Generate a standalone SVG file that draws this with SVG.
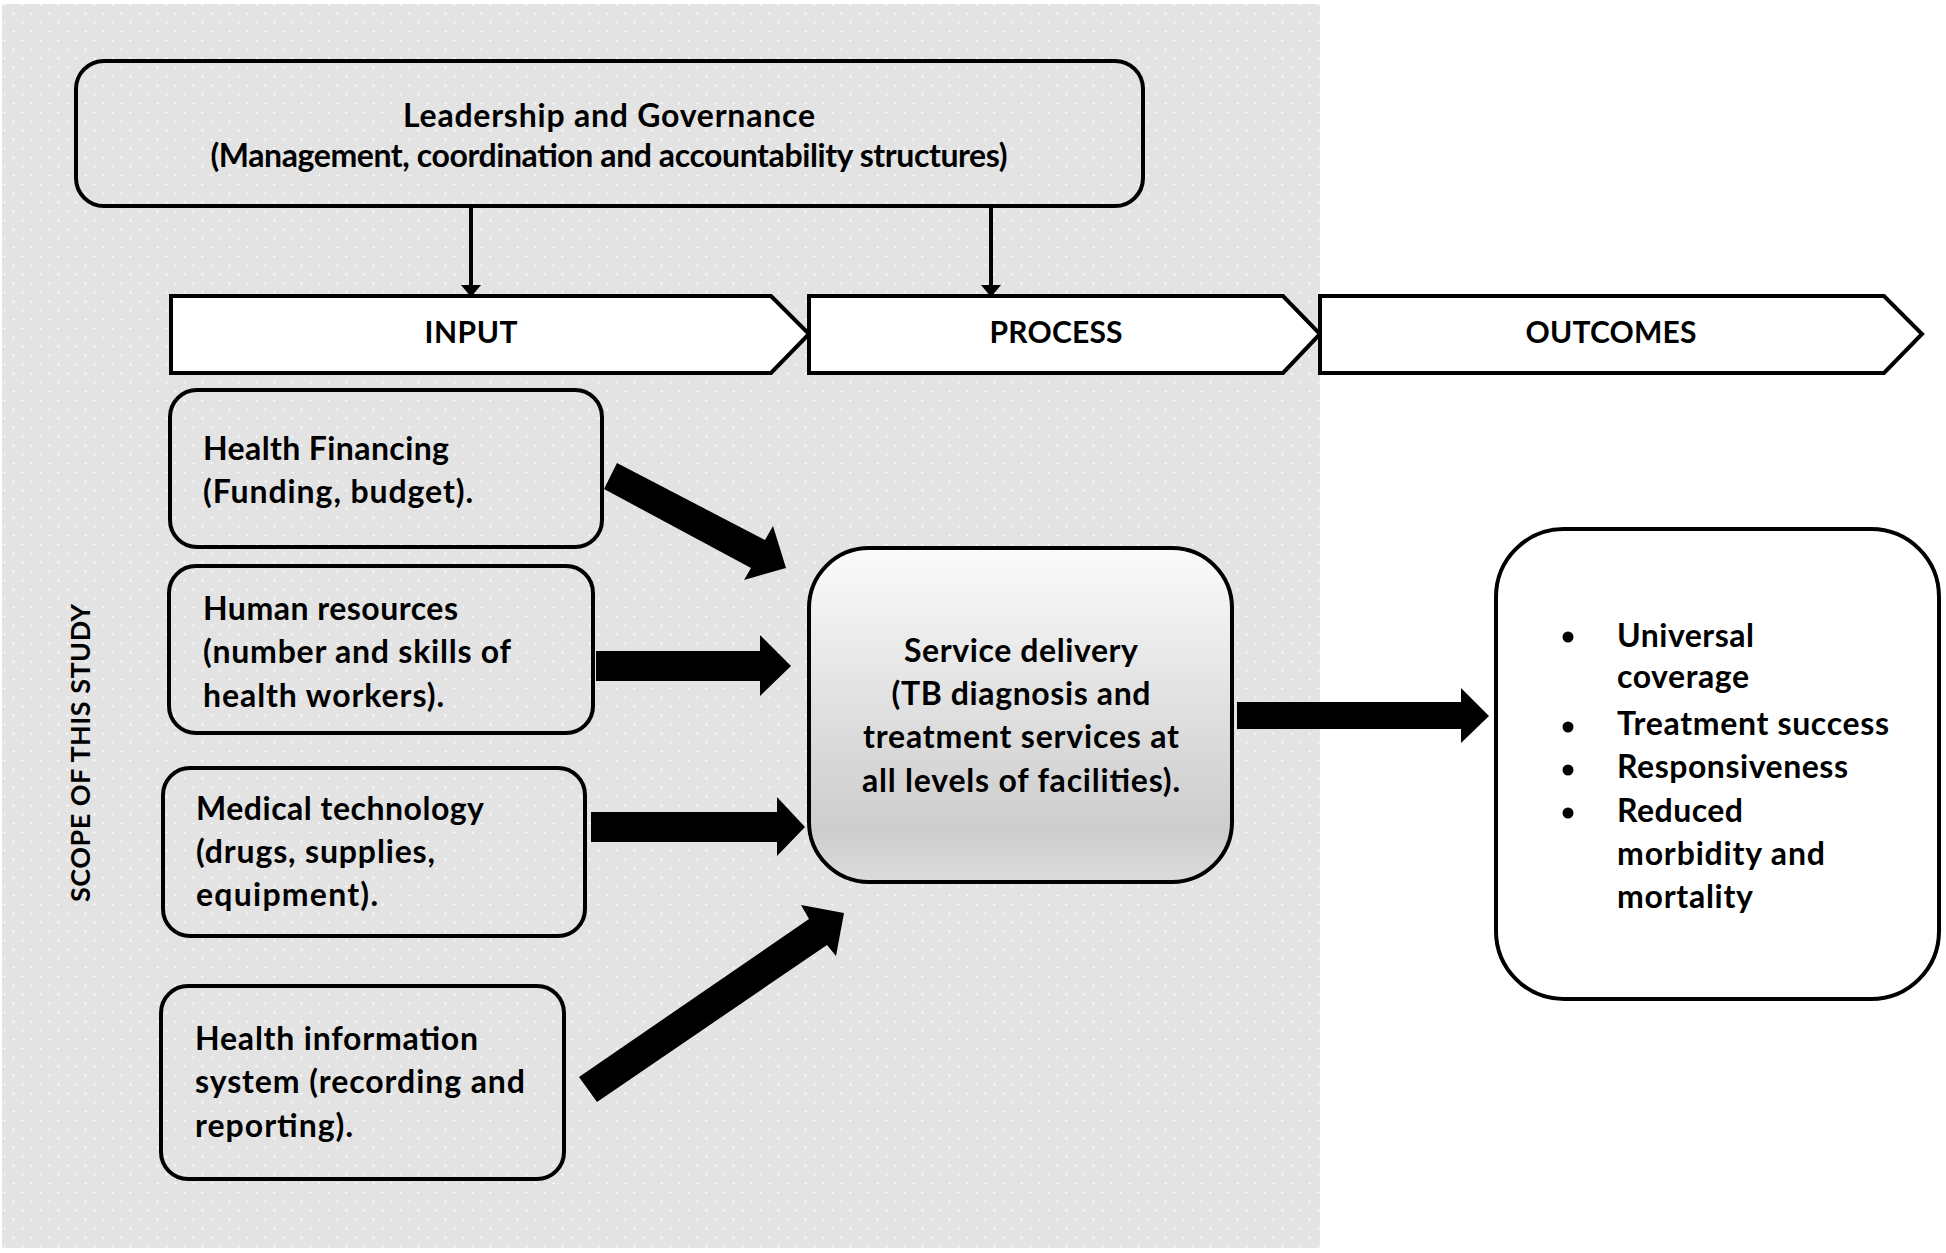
<svg xmlns="http://www.w3.org/2000/svg" width="1946" height="1253" viewBox="0 0 1946 1253">
<defs>
<style>
.t{font-family:Lato,"Liberation Sans",sans-serif;font-weight:700;font-size:32px;fill:#000}
.h{font-size:30px}
.c{text-anchor:middle}
.box{fill:none;stroke:#000;stroke-width:4}
.chev{fill:#fff;stroke:#000;stroke-width:4;stroke-linejoin:miter}
.fat{fill:#000;stroke:none}
.thin{stroke:#000;stroke-width:4;fill:none}
</style>
<pattern id="dots" width="18" height="18" patternUnits="userSpaceOnUse">
<rect width="18" height="18" fill="#e3e3e3"/>
<circle cx="4.5" cy="4.5" r="1.1" fill="#fff"/>
<circle cx="13.5" cy="13.5" r="1.1" fill="#fff"/>
</pattern>
<linearGradient id="sd" x1="0" y1="0" x2="0" y2="1">
<stop offset="0" stop-color="#fbfbfb"/>
<stop offset="0.55" stop-color="#dcdcdc"/>
<stop offset="0.85" stop-color="#cdcdcd"/>
<stop offset="1" stop-color="#dcdcdc"/>
</linearGradient>
<marker id="ah" markerUnits="userSpaceOnUse" markerWidth="12" markerHeight="20" viewBox="0 0 12 20" refX="4" refY="10" orient="auto">
<path d="M0,0 L12,10 L0,20 Z" fill="#000"/>
</marker>
</defs>
<rect width="1946" height="1253" fill="#fff"/>
<g id="scope">
<rect x="2" y="4" width="1318" height="1244" fill="url(#dots)"/>
<text class="t c" style="font-size:27px" textLength="298" transform="translate(90,753) rotate(-90)">SCOPE OF THIS STUDY</text>
</g>
<g id="leadership">
<rect class="box" x="76" y="61" width="1067" height="145" rx="28"/>
<text class="t c" x="609" y="127" textLength="412">Leadership and Governance</text>
<text class="t c" x="609" y="167" textLength="797">(Management, coordination and accountability structures)</text>
</g>
<g id="input">
<polygon class="chev" points="171,296 771,296 809,334 771,373 171,373"/>
<text class="t h c" x="471" y="343" textLength="93">INPUT</text>
</g>
<g id="process">
<polygon class="chev" points="809,296 1283,296 1320,334 1283,373 809,373"/>
<text class="t h c" x="1056" y="343" textLength="133">PROCESS</text>
</g>
<g id="outcomes">
<polygon class="chev" points="1320,296 1884,296 1922,334 1884,373 1320,373"/>
<text class="t h c" x="1611" y="343" textLength="171">OUTCOMES</text>
</g>
<g id="health-financing">
<rect class="box" x="170" y="390" width="432" height="157" rx="27"/>
<text class="t" x="203" y="460" textLength="246">Health Financing</text>
<text class="t" x="203" y="503" textLength="270">(Funding, budget).</text>
</g>
<g id="human-resources">
<rect class="box" x="169" y="566" width="424" height="167" rx="27"/>
<text class="t" x="203" y="620" textLength="255">Human resources</text>
<text class="t" x="203" y="663" textLength="308">(number and skills of</text>
<text class="t" x="203" y="707" textLength="241">health workers).</text>
</g>
<g id="medical-technology">
<rect class="box" x="163" y="768" width="422" height="168" rx="27"/>
<text class="t" x="196" y="820" textLength="288">Medical technology</text>
<text class="t" x="196" y="863" textLength="239">(drugs, supplies,</text>
<text class="t" x="196" y="906" textLength="182">equipment).</text>
</g>
<g id="health-information">
<rect class="box" x="161" y="986" width="403" height="193" rx="27"/>
<text class="t" x="195" y="1050" textLength="283">Health information</text>
<text class="t" x="195" y="1093" textLength="330">system (recording and</text>
<text class="t" x="195" y="1137" textLength="158">reporting).</text>
</g>
<g id="service-delivery">
<rect x="809" y="548" width="423" height="334" rx="60" fill="url(#sd)" stroke="#000" stroke-width="4"/>
<text class="t c" x="1021" y="662" textLength="234">Service delivery</text>
<text class="t c" x="1021" y="705" textLength="259">(TB diagnosis and</text>
<text class="t c" x="1021" y="748" textLength="316">treatment services at</text>
<text class="t c" x="1021" y="792" textLength="318">all levels of facilities).</text>
</g>
<g id="outcomes-list">
<rect x="1496" y="529" width="443" height="470" rx="68" fill="#fff" stroke="#000" stroke-width="4"/>
<circle cx="1568" cy="637" r="5.5"/>
<circle cx="1568" cy="727" r="5.5"/>
<circle cx="1568" cy="770" r="5.5"/>
<circle cx="1568" cy="813" r="5.5"/>
<text class="t" x="1617" y="647" textLength="137">Universal</text>
<text class="t" x="1617" y="688" textLength="132">coverage</text>
<text class="t" x="1617" y="735" textLength="272">Treatment success</text>
<text class="t" x="1617" y="778" textLength="231">Responsiveness</text>
<text class="t" x="1617" y="822" textLength="126">Reduced</text>
<text class="t" x="1617" y="865" textLength="208">morbidity and</text>
<text class="t" x="1617" y="908" textLength="136">mortality</text>
</g>
<g id="connectors">
<line class="thin" x1="471" y1="207" x2="471" y2="289" marker-end="url(#ah)"/>
<line class="thin" x1="991" y1="207" x2="991" y2="289" marker-end="url(#ah)"/>
<polygon class="fat" points="617,463 765,540 773,526 786,568 744,580 751,568 604,489"/>
<polygon class="fat" points="596,651 760,651 760,635 791,666 760,696 760,681 596,681"/>
<polygon class="fat" points="591,812 777,812 777,797 805,827 777,856 777,842 591,842"/>
<polygon class="fat" points="579,1077 809,919 801,905 844,913 836,956 827,945 597,1102"/>
<polygon class="fat" points="1237,702 1461,702 1461,688 1489,716 1461,743 1461,729 1237,729"/>
</g>
</svg>
